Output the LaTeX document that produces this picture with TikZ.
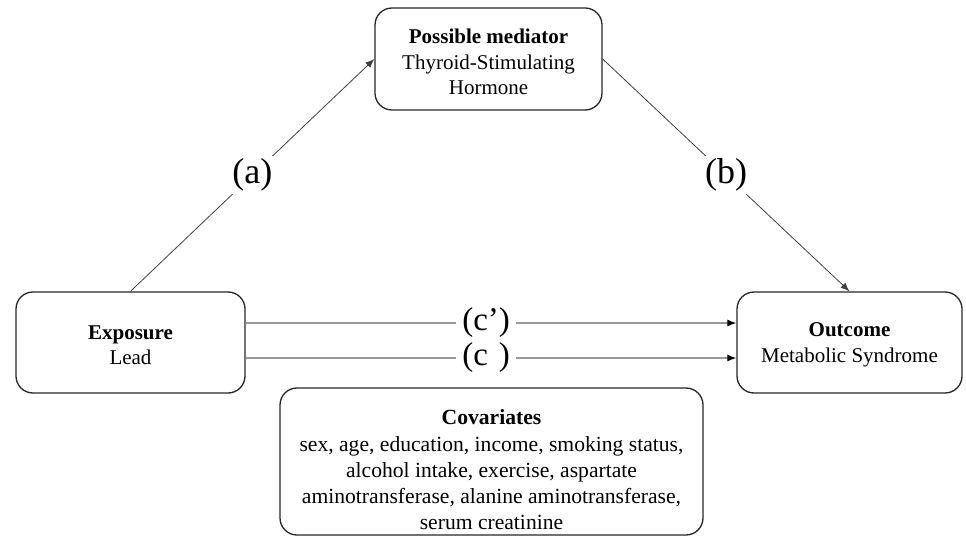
\documentclass[tikz,border=0pt]{standalone}
\usepackage{fontspec}
\setmainfont{Liberation Serif}
\usetikzlibrary{arrows.meta}
\begin{document}
\begin{tikzpicture}[x=1pt,y=-1pt,
  box/.style={draw=black!85, line width=1.3pt, rounded corners=17pt, inner sep=0pt},
  boxtext/.style={align=center, font=\fontsize{21}{25.5}\selectfont, inner sep=0pt},
  covtext/.style={align=center, font=\fontsize{21.6}{26.2}\selectfont, inner sep=0pt},
  conn/.style={draw=black!75, line width=0.8pt, -{Latex[length=9pt,width=7pt]}},
  hconn/.style={draw=black!40, line width=1.2pt, -{Latex[length=9pt,width=7pt,fill=black,color=black]}},
  biglab/.style={fill=white, font=\fontsize{36}{36}\selectfont, inner sep=3pt},
  clab/.style={fill=white, font=\fontsize{33}{33}\selectfont, inner sep=6pt}]
\useasboundingbox (0,0) rectangle (966,537);
\node[box, minimum width=227pt, minimum height=102pt] (med) at (488.5,59) {};
\node[boxtext] (medt) at (488.5,62) {\textbf{Possible mediator}\\Thyroid-Stimulating\\Hormone};
\node[box, minimum width=229pt, minimum height=101pt] (exp) at (130.5,342.5) {};
\node[boxtext] (expt) at (130.5,345) {\textbf{Exposure}\\Lead};
\node[box, minimum width=225pt, minimum height=101pt] (out) at (849.5,342.5) {};
\node[boxtext] (outt) at (849.5,345) {\textbf{Outcome}\\Metabolic Syndrome};
\node[box, minimum width=423pt, minimum height=147pt] (cov) at (491.5,461.5) {};
\node[covtext] (covt) at (491.5,470)
  {\textbf{Covariates}\\sex, age, education, income, smoking status,\\alcohol intake, exercise, aspartate\\aminotransferase, alanine aminotransferase,\\serum creatinine};
\draw[conn] (exp.north) -- node[biglab] (la) {(a)} (med.west);
\draw[conn] (med.east) -- node[biglab] (lb) {(b)} (out.north);
\draw[hconn] ([yshift=19.5pt]exp.east) -- node[clab, pos=0.49] (lcp) {(c’)} ([yshift=19.5pt]out.west);
\draw[hconn] ([yshift=-15.5pt]exp.east) -- node[clab, pos=0.49] (lc) {(c\phantom{’})} ([yshift=-15.5pt]out.west);
\end{tikzpicture}
\end{document}
